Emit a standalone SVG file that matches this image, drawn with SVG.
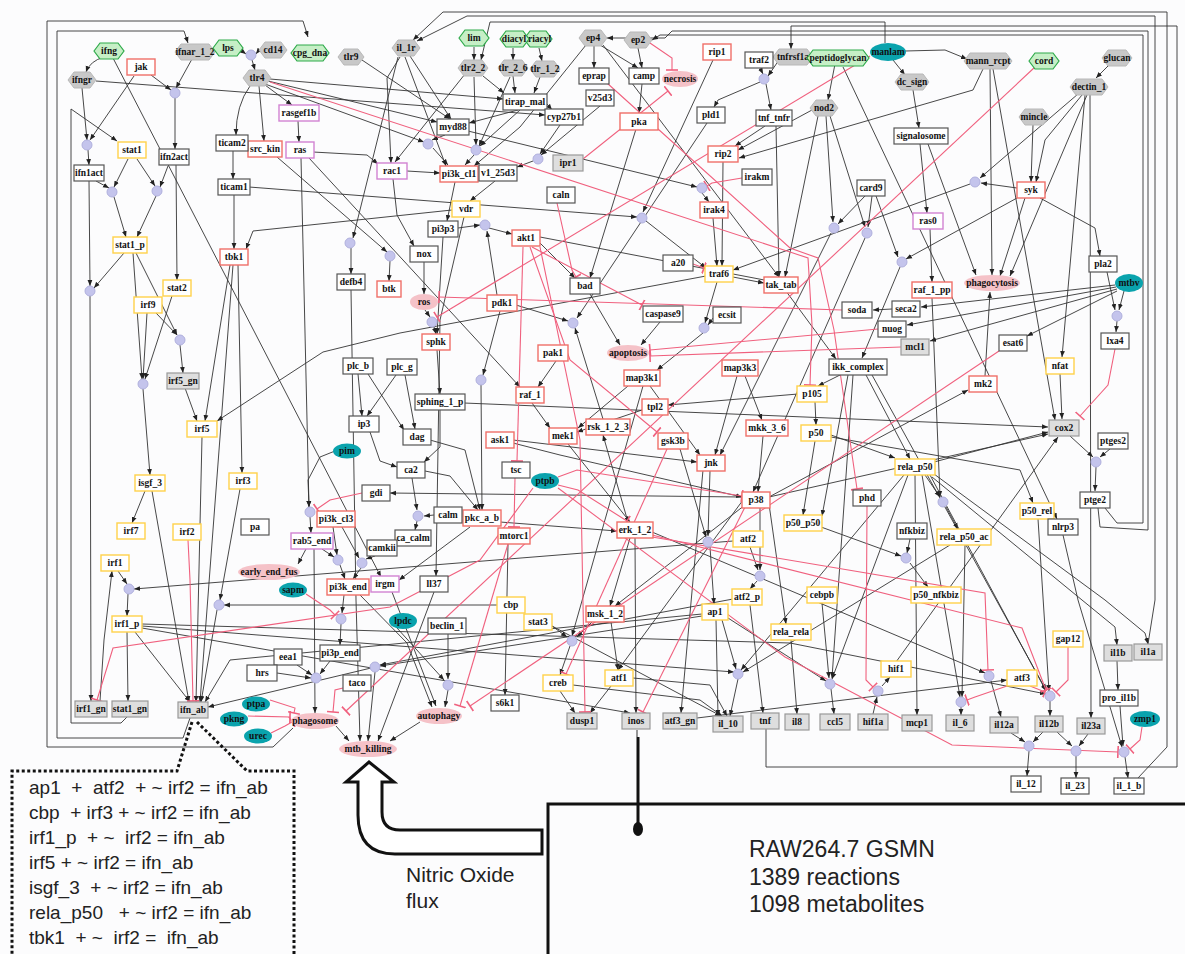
<svg xmlns="http://www.w3.org/2000/svg" width="1185" height="954" viewBox="0 0 1185 954">
<defs>
<style>
.lb{font:bold 9.5px "Liberation Serif","DejaVu Serif",serif;text-anchor:middle;fill:#111}
.r{fill:#fff;stroke:#f07068;stroke-width:1.4}
.y{fill:#fff;stroke:#ffd24a;stroke-width:1.4}
.m{fill:#fff;stroke:#d283d2;stroke-width:1.4}
.k{fill:#fff;stroke:#555;stroke-width:1.2}
.g{fill:#dedede;stroke:#999;stroke-width:1.2}
.hx{fill:#c8c8c8;stroke:#b8b8b8}
.gh{fill:#c6efc6;stroke:#2eaa4a;stroke-width:1.2}
.tl{fill:#0aa3ad}
.pk{fill:#f5c2c8}
.j{fill:#c4c4ec;stroke:#b0b0dd}
.e{fill:none;stroke:#333;stroke-width:.9;marker-end:url(#a)}
.i{fill:none;stroke:#f0607e;stroke-width:1.1;marker-end:url(#t)}
.big{font-family:"Liberation Sans",Arial,sans-serif;fill:#222}
</style>
<marker id="a" viewBox="0 0 10 10" refX="10" refY="5" markerWidth="6" markerHeight="6" markerUnits="userSpaceOnUse" orient="auto"><path d="M0,1L10,5L0,9z" fill="#222"/></marker>
<marker id="t" viewBox="0 0 4 12" refX="2" refY="6" markerWidth="4" markerHeight="12" markerUnits="userSpaceOnUse" orient="auto"><path d="M2,0V12" stroke="#f0607e" stroke-width="1.6"/></marker>
</defs>
<rect width="1185" height="954" fill="#fcfcfd"/>
<g id="connectors">
<path class="e" d="M104,57 Q90,61 86,72"/>
<path class="e" d="M113,58 L381,577"/>
<path class="e" d="M192,59 L176,88"/>
<path class="e" d="M151,75 L171,90"/>
<path class="e" d="M134,76 L90,140"/>
<path class="e" d="M82,88 L87,140"/>
<path class="e" d="M96,81 L545,115"/>
<path class="e" d="M175,98 L175,149"/>
<path class="e" d="M88,150 L89,165"/>
<path class="e" d="M128,159 L114,187"/>
<path class="e" d="M137,159 L155,186"/>
<path class="e" d="M96,181 L109,188"/>
<path class="e" d="M168,166 L160,187"/>
<path class="e" d="M114,197 L126,237"/>
<path class="e" d="M156,196 L137,237"/>
<path class="e" d="M89,181 L90,286"/>
<path class="e" d="M124,253 L94,288"/>
<path class="e" d="M90,296 L91,701"/>
<path class="e" d="M176,165 L177,280"/>
<path class="e" d="M133,253 L142,379"/>
<path class="e" d="M136,253 L177,335"/>
<path class="e" d="M147,313 L143,379"/>
<path class="e" d="M156,313 L177,335"/>
<path class="e" d="M172,296 L145,379"/>
<path class="e" d="M242,51 L246,54"/>
<path class="e" d="M259,50 L256,54"/>
<path class="e" d="M252,60 L255,70"/>
<path class="e" d="M250,86 Q236,105 236,135"/>
<path class="e" d="M259,86 L264,141"/>
<path class="e" d="M265,85 L292,105"/>
<path class="e" d="M298,121 L299,142"/>
<path class="e" d="M233,151 L233,179"/>
<path class="e" d="M234,195 L234,249"/>
<path class="e" d="M249,187 L637,217"/>
<path class="e" d="M362,60 L450,119"/>
<path class="e" d="M270,79 L503,99"/>
<path class="e" d="M265,84 L424,142"/>
<path class="e" d="M268,81 L437,122"/>
<path class="e" d="M313,152 L367,155 L378,164"/>
<path class="e" d="M309,158 L520,387"/>
<path class="e" d="M277,157 L387,252"/>
<path class="e" d="M301,158 L309,507"/>
<path class="e" d="M398,57 L353,238"/>
<path class="e" d="M351,248 L351,274"/>
<path class="e" d="M390,261 L389,281"/>
<path class="e" d="M452,210 L253,231 L246,249"/>
<path class="e" d="M351,290 L356,600 L360,741"/>
<path class="e" d="M127,717 L121,723 L71,723 L71,109 L117,141"/>
<path class="e" d="M190,718 L183,738 L57,738 L57,31 L184,31 L188,43"/>
<path class="e" d="M293,728 L273,747 L47,747 L47,21 L303,21 L308,37"/>
<path class="e" d="M1138,778 L1167,747 L1167,12 L443,12 L413,40"/>
<path class="e" d="M1148,644 L1155,600 L1155,16 L467,16 L417,41"/>
<path class="e" d="M885,43 L885,22 L490,22 L481,60"/>
<path class="e" d="M766,729 L766,767 L1177,767 L1177,26 L791,26 L791,49"/>
<path class="e" d="M1098,508 L1100,527 L1148,530 L1148,31 L672,31 L665,38 L607,38"/>
<path class="e" d="M1105,508 L1117,523 L1143,523 L1143,35 L660,35 L652,40"/>
<path class="e" d="M474,47 L474,60"/>
<path class="e" d="M513,48 L513,60"/>
<path class="e" d="M539,48 L542,61"/>
<path class="e" d="M483,76 L504,93"/>
<path class="e" d="M513,76 L515,93"/>
<path class="e" d="M540,77 L534,93"/>
<path class="e" d="M465,74 L395,162"/>
<path class="e" d="M474,77 L476,145"/>
<path class="e" d="M510,77 L479,146"/>
<path class="e" d="M518,110 L469,123"/>
<path class="e" d="M520,110 L480,146"/>
<path class="e" d="M547,104 L552,110"/>
<path class="e" d="M600,106 L541,155"/>
<path class="e" d="M560,125 L540,154"/>
<path class="e" d="M533,161 L517,167"/>
<path class="e" d="M495,181 L470,201"/>
<path class="e" d="M445,135 L432,140"/>
<path class="e" d="M468,131 L697,187"/>
<path class="e" d="M702,193 L709,202"/>
<path class="e" d="M433,148 L448,165"/>
<path class="e" d="M474,155 L465,165"/>
<path class="e" d="M407,171 L440,173"/>
<path class="e" d="M455,182 L447,221"/>
<path class="e" d="M458,228 L480,225"/>
<path class="e" d="M489,228 L512,234"/>
<path class="e" d="M497,295 L487,231"/>
<path class="e" d="M443,237 L437,334"/>
<path class="e" d="M424,262 L424,294"/>
<path class="e" d="M393,179 L397,215 L414,246"/>
<path class="e" d="M594,46 L594,68"/>
<path class="e" d="M600,45 L638,68"/>
<path class="e" d="M638,48 L642,68"/>
<path class="e" d="M642,84 L639,113"/>
<path class="e" d="M586,45 L520,127 L474,166"/>
<path class="e" d="M603,45 L779,277"/>
<path class="e" d="M713,60 L643,212"/>
<path class="e" d="M760,68 L763,74"/>
<path class="e" d="M779,60 L768,76"/>
<path class="e" d="M760,82 L718,100 L714,107"/>
<path class="e" d="M766,84 L771,110"/>
<path class="e" d="M765,126 L735,146"/>
<path class="e" d="M776,126 L779,277"/>
<path class="e" d="M723,162 L722,266"/>
<path class="e" d="M707,123 L577,318"/>
<path class="e" d="M636,129 L590,278"/>
<path class="e" d="M540,243 L575,278"/>
<path class="e" d="M540,237 L780,283 L836,359"/>
<path class="e" d="M646,221 L706,268"/>
<path class="e" d="M713,218 L717,266"/>
<path class="e" d="M733,277 L764,283"/>
<path class="e" d="M812,110 L738,150"/>
<path class="e" d="M835,64 L828,100"/>
<path class="e" d="M843,67 L1057,519"/>
<path class="e" d="M905,51 L945,50 L967,59"/>
<path class="e" d="M893,60 L905,75"/>
<path class="e" d="M913,90 L919,128"/>
<path class="e" d="M920,144 L927,213"/>
<path class="e" d="M928,144 L976,275"/>
<path class="e" d="M930,229 L932,282"/>
<path class="e" d="M990,69 L992,275"/>
<path class="e" d="M993,69 L1055,420"/>
<path class="e" d="M983,69 L973,90 L739,158"/>
<path class="e" d="M826,116 L833,222"/>
<path class="e" d="M830,116 L865,227"/>
<path class="e" d="M818,116 L785,277"/>
<path class="e" d="M865,196 L838,224"/>
<path class="e" d="M872,196 L868,227"/>
<path class="e" d="M876,196 L898,257"/>
<path class="e" d="M1017,188 L981,183"/>
<path class="e" d="M1078,94 L980,178"/>
<path class="e" d="M970,184 L733,270"/>
<path class="e" d="M1033,125 L1031,182"/>
<path class="e" d="M1082,95 L1045,140 L1036,182"/>
<path class="e" d="M1087,95 L1010,276"/>
<path class="e" d="M1090,95 L1091,718"/>
<path class="e" d="M1017,198 L906,259"/>
<path class="e" d="M1025,198 L1000,276"/>
<path class="e" d="M1040,198 L1095,228 L1100,256"/>
<path class="e" d="M1110,64 L1096,78"/>
<path class="e" d="M1107,272 L1115,310"/>
<path class="e" d="M1124,291 L1119,310"/>
<path class="e" d="M1115,285 L921,307"/>
<path class="e" d="M1116,287 L907,325"/>
<path class="e" d="M1117,289 L930,341"/>
<path class="e" d="M1117,291 L1027,336"/>
<path class="e" d="M1085,95 L1062,357"/>
<path class="e" d="M1117,321 L1116,332"/>
<path class="e" d="M1060,374 L1062,419"/>
<path class="e" d="M1070,436 L1093,457"/>
<path class="e" d="M1110,449 L1100,457"/>
<path class="e" d="M1096,467 L1095,491"/>
<path class="e" d="M932,298 L940,497"/>
<path class="e" d="M985,376 L990,292"/>
<path class="e" d="M892,309 L873,310"/>
<path class="e" d="M831,233 L720,455"/>
<path class="e" d="M865,238 L753,492"/>
<path class="e" d="M900,267 L862,358"/>
<path class="e" d="M840,375 L818,386"/>
<path class="e" d="M866,375 L910,459"/>
<path class="e" d="M853,375 L832,678"/>
<path class="e" d="M848,375 L822,516"/>
<path class="e" d="M872,375 L1046,690"/>
<path class="e" d="M815,402 L816,425"/>
<path class="e" d="M831,435 L895,458"/>
<path class="e" d="M831,437 L1020,470 L1033,503"/>
<path class="e" d="M815,441 L803,515"/>
<path class="e" d="M464,403 L1048,427"/>
<path class="e" d="M934,462 L1048,432"/>
<path class="e" d="M769,497 L1048,434"/>
<path class="e" d="M896,662 L1058,437"/>
<path class="e" d="M925,475 L940,497"/>
<path class="e" d="M946,507 L958,529"/>
<path class="e" d="M930,475 L1046,691"/>
<path class="e" d="M922,475 L960,697"/>
<path class="e" d="M908,475 L832,679"/>
<path class="e" d="M915,475 L917,715"/>
<path class="e" d="M904,475 L741,670"/>
<path class="e" d="M932,477 L1082,600 L1115,627 L1117,645"/>
<path class="e" d="M934,474 L1105,600 L1145,633 L1148,644"/>
<path class="e" d="M910,539 L907,553"/>
<path class="e" d="M821,527 L901,556"/>
<path class="e" d="M910,563 L928,587"/>
<path class="e" d="M965,545 L962,697"/>
<path class="e" d="M950,545 L743,672"/>
<path class="e" d="M1038,519 L1049,691"/>
<path class="e" d="M1063,535 L1078,600 L1122,747"/>
<path class="e" d="M1120,706 L1123,746"/>
<path class="e" d="M1117,661 L1118,690"/>
<path class="e" d="M873,714 L877,697"/>
<path class="e" d="M882,686 L890,677"/>
<path class="e" d="M822,603 L829,678"/>
<path class="e" d="M791,640 L797,714"/>
<path class="e" d="M831,689 L834,714"/>
<path class="e" d="M961,707 L961,715"/>
<path class="e" d="M991,681 L1001,717"/>
<path class="e" d="M1050,701 L1050,716"/>
<path class="e" d="M1011,733 L1025,742"/>
<path class="e" d="M1043,732 L1033,742"/>
<path class="e" d="M1057,732 L1072,746"/>
<path class="e" d="M1088,734 L1079,746"/>
<path class="e" d="M1029,751 L1027,776"/>
<path class="e" d="M1076,756 L1076,778"/>
<path class="e" d="M1125,757 L1128,778"/>
<path class="e" d="M697,718 L1007,680"/>
<path class="e" d="M560,691 L575,713"/>
<path class="e" d="M611,686 L590,713"/>
<path class="e" d="M573,685 L700,700 L722,716"/>
<path class="e" d="M633,678 L710,685 L727,716"/>
<path class="e" d="M552,626 L721,716"/>
<path class="e" d="M570,646 L560,675"/>
<path class="e" d="M592,622 L577,637"/>
<path class="e" d="M552,626 L567,637"/>
<path class="e" d="M611,622 L618,670"/>
<path class="e" d="M508,544 L505,695"/>
<path class="e" d="M448,690 L445,707"/>
<path class="e" d="M448,634 L448,679"/>
<path class="e" d="M397,628 L444,680"/>
<path class="e" d="M420,722 L390,741"/>
<path class="e" d="M635,538 L636,713"/>
<path class="e" d="M750,605 L763,713"/>
<path class="e" d="M716,620 L718,716"/>
<path class="e" d="M722,620 L736,669"/>
<path class="e" d="M728,618 L826,681"/>
<path class="e" d="M738,679 L730,716"/>
<path class="e" d="M425,310 L430,317"/>
<path class="e" d="M434,327 L436,334"/>
<path class="e" d="M437,350 L440,394"/>
<path class="e" d="M464,217 L440,320 L436,576"/>
<path class="e" d="M440,410 L440,447 L424,462"/>
<path class="e" d="M358,374 L362,416"/>
<path class="e" d="M368,374 L404,430"/>
<path class="e" d="M396,375 L367,416"/>
<path class="e" d="M405,375 L415,429"/>
<path class="e" d="M370,432 L380,461 L397,467"/>
<path class="e" d="M430,440 L465,450 L480,510"/>
<path class="e" d="M425,471 L450,476 L478,510"/>
<path class="e" d="M412,478 L417,510"/>
<path class="e" d="M434,515 L424,516"/>
<path class="e" d="M417,521 L415,530"/>
<path class="e" d="M375,556 L366,559"/>
<path class="e" d="M333,527 L337,555"/>
<path class="e" d="M342,527 L359,558"/>
<path class="e" d="M322,549 L334,557"/>
<path class="e" d="M340,565 L345,579"/>
<path class="e" d="M361,568 L353,579"/>
<path class="e" d="M344,595 L342,613"/>
<path class="e" d="M341,624 L340,645"/>
<path class="e" d="M335,451 L320,457 L308,480 L309,507"/>
<path class="e" d="M310,517 L311,533"/>
<path class="e" d="M306,549 L298,564"/>
<path class="e" d="M314,549 L315,713"/>
<path class="e" d="M297,665 L312,675"/>
<path class="e" d="M277,673 L311,678"/>
<path class="e" d="M330,661 L320,674"/>
<path class="e" d="M336,726 L349,741"/>
<path class="e" d="M375,672 L368,741"/>
<path class="e" d="M434,592 L378,741"/>
<path class="e" d="M360,595 L407,643 L432,707"/>
<path class="e" d="M392,592 L436,706"/>
<path class="e" d="M500,522 L617,531"/>
<path class="e" d="M470,527 L399,580"/>
<path class="e" d="M481,385 L482,510"/>
<path class="e" d="M500,311 L483,375"/>
<path class="e" d="M513,440 L697,462"/>
<path class="e" d="M513,443 L560,455 L742,497"/>
<path class="e" d="M532,403 L550,428"/>
<path class="e" d="M568,444 L630,522"/>
<path class="e" d="M642,410 L577,432"/>
<path class="e" d="M628,386 L578,428"/>
<path class="e" d="M650,386 L700,455"/>
<path class="e" d="M643,386 L572,636"/>
<path class="e" d="M737,376 L715,455"/>
<path class="e" d="M745,376 L762,420"/>
<path class="e" d="M763,436 L758,492"/>
<path class="e" d="M710,471 L708,536"/>
<path class="e" d="M710,547 L714,604"/>
<path class="e" d="M750,547 L758,570"/>
<path class="e" d="M760,508 L760,570"/>
<path class="e" d="M757,581 L750,589"/>
<path class="e" d="M628,522 L603,435"/>
<path class="e" d="M603,419 L575,328"/>
<path class="e" d="M516,305 L568,321"/>
<path class="e" d="M556,361 L538,387"/>
<path class="e" d="M660,322 L641,345"/>
<path class="e" d="M590,294 L620,345"/>
<path class="e" d="M703,333 L657,370"/>
<path class="e" d="M713,318 L708,325"/>
<path class="e" d="M717,282 L705,323"/>
<path class="e" d="M742,497 L390,493"/>
<path class="e" d="M497,605 L224,605"/>
<path class="e" d="M733,541 L134,589"/>
<path class="e" d="M135,632 L190,702"/>
<path class="e" d="M127,632 L128,701"/>
<path class="e" d="M142,624 L790,643 L1046,694"/>
<path class="e" d="M142,626 L734,672"/>
<path class="e" d="M142,628 L630,713"/>
<path class="e" d="M118,571 L127,584"/>
<path class="e" d="M128,594 L127,616"/>
<path class="e" d="M100,701 L104,640 L112,571"/>
<path class="e" d="M702,614 L230,660 L205,702"/>
<path class="e" d="M371,668 L208,707"/>
<path class="e" d="M702,616 L380,666"/>
<path class="e" d="M733,599 L380,665"/>
<path class="e" d="M706,276 L400,333 L323,352 L217,421"/>
<path class="e" d="M630,538 L610,606"/>
<path class="e" d="M745,505 L615,606"/>
<path class="e" d="M743,500 L618,670"/>
<path class="e" d="M769,497 L968,390"/>
<path class="e" d="M703,470 L681,713"/>
<path class="e" d="M798,394 L668,405"/>
<path class="e" d="M680,449 L706,537"/>
<path class="e" d="M185,388 L197,421"/>
<path class="e" d="M180,345 L183,373"/>
<path class="e" d="M143,389 L150,475"/>
<path class="e" d="M145,491 L132,523"/>
<path class="e" d="M152,491 L189,702"/>
<path class="e" d="M202,437 L196,702"/>
<path class="e" d="M230,265 L205,421"/>
<path class="e" d="M238,265 L242,473"/>
<path class="e" d="M233,265 L200,702"/>
<path class="e" d="M240,489 L220,600"/>
<path class="e" d="M217,610 L201,702"/>
<path class="e" d="M410,56 L451,119"/>
<path class="e" d="M405,57 L446,166"/>
<path class="e" d="M400,57 L387,78 L391,163"/>
<path class="e" d="M769,504 L786,624"/>
<path class="e" d="M652,532 L985,673"/>
<path class="i" d="M270,82 L790,252 L808,258 L812,325 L810,385"/>
<path class="i" d="M607,83 L790,248 L818,258 L834,330 L857,489"/>
<path class="i" d="M583,159 L668,91"/>
<path class="i" d="M650,43 L672,58 L672,70"/>
<path class="i" d="M742,178 L712,183 L707,186"/>
<path class="i" d="M557,203 L572,270 L576,277"/>
<path class="i" d="M532,247 L642,305"/>
<path class="i" d="M523,247 L517,461"/>
<path class="i" d="M530,247 L570,360 L657,432"/>
<path class="i" d="M842,310 L439,297"/>
<path class="i" d="M870,56 L437,317"/>
<path class="i" d="M1035,67 L346,711"/>
<path class="i" d="M999,351 L470,706"/>
<path class="i" d="M1115,349 L1108,385 L1080,416"/>
<path class="i" d="M693,264 L704,268"/>
<path class="i" d="M878,329 L650,350"/>
<path class="i" d="M901,347 L650,356"/>
<path class="i" d="M188,540 L190,580 L193,701"/>
<path class="i" d="M362,493 L330,500 L317,509"/>
<path class="i" d="M306,594 L330,610 L335,615"/>
<path class="i" d="M270,700 L295,708 L294,713"/>
<path class="i" d="M248,716 L290,717"/>
<path class="i" d="M271,733 L285,726 L292,722"/>
<path class="i" d="M343,688 L335,690 L333,712"/>
<path class="i" d="M515,478 L514,527"/>
<path class="i" d="M558,477 L577,470 L742,496"/>
<path class="i" d="M558,485 L578,490 L627,521"/>
<path class="i" d="M533,488 L480,560 L390,607 L113,648 L97,700"/>
<path class="i" d="M667,449 L566,674"/>
<path class="i" d="M867,506 L866,680 L873,687"/>
<path class="i" d="M1007,686 L975,697 L967,700"/>
<path class="i" d="M1030,686 L1045,692"/>
<path class="i" d="M1068,647 L1068,680 L1056,692"/>
<path class="i" d="M1142,727 L1140,740 L1130,749"/>
<path class="i" d="M558,488 L785,657 L952,745 L1118,752"/>
<path class="i" d="M652,535 L1022,628 L1046,690"/>
<path class="i" d="M652,537 L985,593 L988,670"/>
<path class="i" d="M745,507 L643,712"/>
<path class="i" d="M540,247 L580,440 L585,712"/>
<path class="i" d="M508,544 L460,706"/>
</g>
<g id="n-ifnar_1_2"><polygon class="hx" points="175,52 181,44 209,44 215,52 209,60 181,60"/><text class="lb" x="195" y="55.3">ifnar_1_2</text></g>
<g id="n-cd14"><polygon class="hx" points="259,50 265,42 281,42 287,50 281,58 265,58"/><text class="lb" x="273" y="53.3">cd14</text></g>
<g id="n-tlr9"><polygon class="hx" points="338,57 344,49 358,49 364,57 358,65 344,65"/><text class="lb" x="351" y="60.3">tlr9</text></g>
<g id="n-ifngr"><polygon class="hx" points="68,80 74,72 90,72 96,80 90,88 74,88"/><text class="lb" x="82" y="83.3">ifngr</text></g>
<g id="n-tlr4"><polygon class="hx" points="243,78 249,70 265,70 271,78 265,86 249,86"/><text class="lb" x="257" y="81.3">tlr4</text></g>
<g id="n-il_1r"><polygon class="hx" points="392,48 398,40 414,40 420,48 414,56 398,56"/><text class="lb" x="406" y="51.3">il_1r</text></g>
<g id="n-tlr2_2"><polygon class="hx" points="458,68 464,60 482,60 488,68 482,76 464,76"/><text class="lb" x="473" y="71.3">tlr2_2</text></g>
<g id="n-tlr_2_6"><polygon class="hx" points="498,68 504,60 522,60 528,68 522,76 504,76"/><text class="lb" x="513" y="71.3">tlr_2_6</text></g>
<g id="n-tlr_1_2"><polygon class="hx" points="530,69 536,61 554,61 560,69 554,77 536,77"/><text class="lb" x="545" y="72.3">tlr_1_2</text></g>
<g id="n-ep4"><polygon class="hx" points="579,38 585,30 601,30 607,38 601,46 585,46"/><text class="lb" x="593" y="41.3">ep4</text></g>
<g id="n-ep2"><polygon class="hx" points="624,40 630,32 646,32 652,40 646,48 630,48"/><text class="lb" x="638" y="43.3">ep2</text></g>
<g id="n-tnfrsf1a"><polygon class="hx" points="773,57 779,49 807,49 813,57 807,65 779,65"/><text class="lb" x="793" y="60.3">tnfrsf1a</text></g>
<g id="n-mann_rcpt"><polygon class="hx" points="964,61 970,53 1006,53 1012,61 1006,69 970,69"/><text class="lb" x="988" y="64.3">mann_rcpt</text></g>
<g id="n-dc_sign"><polygon class="hx" points="895,82 901,74 923,74 929,82 923,90 901,90"/><text class="lb" x="912" y="85.3">dc_sign</text></g>
<g id="n-glucan"><polygon class="hx" points="1102,58 1108,50 1126,50 1132,58 1126,66 1108,66"/><text class="lb" x="1117" y="61.3">glucan</text></g>
<g id="n-dectin_1"><polygon class="hx" points="1070,87 1076,79 1102,79 1108,87 1102,95 1076,95"/><text class="lb" x="1089" y="90.3">dectin_1</text></g>
<g id="n-nod2"><polygon class="hx" points="810,108 816,100 832,100 838,108 832,116 816,116"/><text class="lb" x="824" y="111.3">nod2</text></g>
<g id="n-mincle"><polygon class="hx" points="1019,117 1025,109 1043,109 1049,117 1043,125 1025,125"/><text class="lb" x="1034" y="120.3">mincle</text></g>
<g id="n-ifng"><polygon class="gh" points="94,51 100,43 118,43 124,51 118,59 100,59"/><text class="lb" x="109" y="54.3">ifng</text></g>
<g id="n-lps"><polygon class="gh" points="213,48 219,40 237,40 243,48 237,56 219,56"/><text class="lb" x="228" y="51.3">lps</text></g>
<g id="n-cpg_dna"><polygon class="gh" points="291,53 297,45 323,45 329,53 323,61 297,61"/><text class="lb" x="310" y="56.3">cpg_dna</text></g>
<g id="n-lim"><polygon class="gh" points="459,38 465,30 483,30 489,38 483,46 465,46"/><text class="lb" x="474" y="41.3">lim</text></g>
<g id="n-triacyl"><polygon class="gh" points="524,39 530,31 546,31 552,39 546,47 530,47"/><text class="lb" x="538" y="42.3">triacyl</text></g>
<g id="n-diacyl"><polygon class="gh" points="500,39 506,31 523,31 529,39 523,47 506,47"/><text class="lb" x="514" y="42.3">diacyl</text></g>
<g id="n-peptidoglycan"><polygon class="gh" points="807,58 813,50 863,50 869,58 863,66 813,66"/><text class="lb" x="838" y="61.3">peptidoglycan</text></g>
<g id="n-cord"><polygon class="gh" points="1029,61 1035,53 1053,53 1059,61 1053,69 1035,69"/><text class="lb" x="1044" y="64.3">cord</text></g>
<g id="n-manlam"><ellipse class="tl" cx="888" cy="52" rx="18" ry="9"/><text class="lb" x="888" y="55.3">manlam</text></g>
<g id="n-mtbv"><ellipse class="tl" cx="1129" cy="283" rx="14" ry="9"/><text class="lb" x="1129" y="286.3">mtbv</text></g>
<g id="n-pim"><ellipse class="tl" cx="347" cy="451" rx="14" ry="7.5"/><text class="lb" x="347" y="454.3">pim</text></g>
<g id="n-sapm"><ellipse class="tl" cx="293" cy="590" rx="14" ry="7.5"/><text class="lb" x="293" y="593.3">sapm</text></g>
<g id="n-lpdc"><ellipse class="tl" cx="403" cy="621" rx="14" ry="8"/><text class="lb" x="403" y="624.3">lpdc</text></g>
<g id="n-ptpb"><ellipse class="tl" cx="545" cy="481" rx="14" ry="8"/><text class="lb" x="545" y="484.3">ptpb</text></g>
<g id="n-ptpa"><ellipse class="tl" cx="256" cy="704" rx="14" ry="7.5"/><text class="lb" x="256" y="707.3">ptpa</text></g>
<g id="n-pkng"><ellipse class="tl" cx="234" cy="719" rx="14" ry="7.5"/><text class="lb" x="234" y="722.3">pkng</text></g>
<g id="n-urec"><ellipse class="tl" cx="258" cy="736" rx="14" ry="7.5"/><text class="lb" x="258" y="739.3">urec</text></g>
<g id="n-zmp1"><ellipse class="tl" cx="1145" cy="719" rx="15" ry="8"/><text class="lb" x="1145" y="722.3">zmp1</text></g>
<g id="n-necrosis"><ellipse class="pk" cx="680" cy="79" rx="18" ry="8"/><text class="lb" x="680" y="82.3">necrosis</text></g>
<g id="n-phagocytosis"><ellipse class="pk" cx="992" cy="283" rx="28" ry="8"/><text class="lb" x="992" y="286.3">phagocytosis</text></g>
<g id="n-ros"><ellipse class="pk" cx="424" cy="302" rx="14" ry="8"/><text class="lb" x="424" y="305.3">ros</text></g>
<g id="n-apoptosis"><ellipse class="pk" cx="628" cy="353" rx="21" ry="8"/><text class="lb" x="628" y="356.3">apoptosis</text></g>
<g id="n-early_end_fus"><ellipse class="pk" cx="269" cy="572" rx="31" ry="8"/><text class="lb" x="269" y="575.3">early_end_fus</text></g>
<g id="n-phagosome"><ellipse class="pk" cx="315" cy="721" rx="24" ry="8"/><text class="lb" x="315" y="724.3">phagosome</text></g>
<g id="n-mtb_killing"><ellipse class="pk" cx="368" cy="749" rx="29" ry="8"/><text class="lb" x="368" y="752.3">mtb_killing</text></g>
<g id="n-autophagy"><ellipse class="pk" cx="439" cy="716" rx="23" ry="8"/><text class="lb" x="439" y="719.3">autophagy</text></g>
<g id="n-jak"><rect class="r" x="127" y="59" width="28" height="16"/><text class="lb" x="141" y="70.3">jak</text></g>
<g id="n-src_kin"><rect class="r" x="248" y="141" width="34" height="16"/><text class="lb" x="265" y="152.3">src_kin</text></g>
<g id="n-tbk1"><rect class="r" x="220" y="249" width="28" height="16"/><text class="lb" x="234" y="260.3">tbk1</text></g>
<g id="n-btk"><rect class="r" x="377" y="281" width="24" height="16"/><text class="lb" x="389" y="292.3">btk</text></g>
<g id="n-pi3k_cl1"><rect class="r" x="440" y="166" width="38" height="16"/><text class="lb" x="459" y="177.3">pi3k_cl1</text></g>
<g id="n-rip1"><rect class="r" x="703" y="44" width="28" height="16"/><text class="lb" x="717" y="55.3">rip1</text></g>
<g id="n-pka"><rect class="r" x="620" y="113" width="38" height="17"/><text class="lb" x="639" y="124.8">pka</text></g>
<g id="n-rip2"><rect class="r" x="708" y="146" width="30" height="16"/><text class="lb" x="723" y="157.3">rip2</text></g>
<g id="n-irak4"><rect class="r" x="700" y="202" width="28" height="16"/><text class="lb" x="714" y="213.3">irak4</text></g>
<g id="n-akt1"><rect class="r" x="512" y="230" width="28" height="16"/><text class="lb" x="526" y="241.3">akt1</text></g>
<g id="n-tak_tab"><rect class="r" x="764" y="277" width="34" height="16"/><text class="lb" x="781" y="288.3">tak_tab</text></g>
<g id="n-pdk1"><rect class="r" x="487" y="295" width="30" height="16"/><text class="lb" x="502" y="306.3">pdk1</text></g>
<g id="n-sphk"><rect class="r" x="422" y="334" width="28" height="16"/><text class="lb" x="436" y="345.3">sphk</text></g>
<g id="n-pak1"><rect class="r" x="538" y="345" width="30" height="16"/><text class="lb" x="553" y="356.3">pak1</text></g>
<g id="n-map3k3"><rect class="r" x="722" y="360" width="36" height="16"/><text class="lb" x="740" y="371.3">map3k3</text></g>
<g id="n-map3k1"><rect class="r" x="624" y="370" width="36" height="16"/><text class="lb" x="642" y="381.3">map3k1</text></g>
<g id="n-raf_1"><rect class="r" x="516" y="387" width="28" height="16"/><text class="lb" x="530" y="398.3">raf_1</text></g>
<g id="n-tpl2"><rect class="r" x="642" y="399" width="26" height="16"/><text class="lb" x="655" y="410.3">tpl2</text></g>
<g id="n-mkk_3_6"><rect class="r" x="746" y="420" width="42" height="16"/><text class="lb" x="767" y="431.3">mkk_3_6</text></g>
<g id="n-mek1"><rect class="r" x="549" y="428" width="28" height="16"/><text class="lb" x="563" y="439.3">mek1</text></g>
<g id="n-rsk_1_2_3"><rect class="r" x="586" y="419" width="44" height="16"/><text class="lb" x="608" y="430.3">rsk_1_2_3</text></g>
<g id="n-gsk3b"><rect class="r" x="658" y="433" width="30" height="16"/><text class="lb" x="673" y="444.3">gsk3b</text></g>
<g id="n-ask1"><rect class="r" x="486" y="432" width="28" height="16"/><text class="lb" x="500" y="443.3">ask1</text></g>
<g id="n-jnk"><rect class="r" x="697" y="455" width="28" height="16"/><text class="lb" x="711" y="466.3">jnk</text></g>
<g id="n-p38"><rect class="r" x="742" y="492" width="28" height="16"/><text class="lb" x="756" y="503.3">p38</text></g>
<g id="n-pkc_a_b"><rect class="r" x="463" y="510" width="38" height="16"/><text class="lb" x="482" y="521.3">pkc_a_b</text></g>
<g id="n-erk_1_2"><rect class="r" x="617" y="522" width="36" height="16"/><text class="lb" x="635" y="533.3">erk_1_2</text></g>
<g id="n-mtorc1"><rect class="r" x="498" y="528" width="32" height="16"/><text class="lb" x="514" y="539.3">mtorc1</text></g>
<g id="n-pi3k_cl3"><rect class="r" x="317" y="511" width="38" height="16"/><text class="lb" x="336" y="522.3">pi3k_cl3</text></g>
<g id="n-pi3k_end"><rect class="r" x="327" y="579" width="42" height="16"/><text class="lb" x="348" y="590.3">pi3k_end</text></g>
<g id="n-msk_1_2"><rect class="r" x="586" y="606" width="38" height="16"/><text class="lb" x="605" y="617.3">msk_1_2</text></g>
<g id="n-syk"><rect class="r" x="1017" y="182" width="28" height="16"/><text class="lb" x="1031" y="193.3">syk</text></g>
<g id="n-raf_1_pp"><rect class="r" x="912" y="282" width="40" height="16"/><text class="lb" x="932" y="293.3">raf_1_pp</text></g>
<g id="n-mk2"><rect class="r" x="969" y="376" width="28" height="16"/><text class="lb" x="983" y="387.3">mk2</text></g>
<g id="n-stat1"><rect class="y" x="118" y="142" width="28" height="16"/><text class="lb" x="132" y="153.3">stat1</text></g>
<g id="n-stat1_p"><rect class="y" x="113" y="237" width="34" height="16"/><text class="lb" x="130" y="248.3">stat1_p</text></g>
<g id="n-stat2"><rect class="y" x="163" y="280" width="28" height="16"/><text class="lb" x="177" y="291.3">stat2</text></g>
<g id="n-irf9"><rect class="y" x="134" y="297" width="28" height="16"/><text class="lb" x="148" y="308.3">irf9</text></g>
<g id="n-irf5"><rect class="y" x="187" y="421" width="30" height="16"/><text class="lb" x="202" y="432.3">irf5</text></g>
<g id="n-isgf_3"><rect class="y" x="135" y="475" width="30" height="16"/><text class="lb" x="150" y="486.3">isgf_3</text></g>
<g id="n-irf3"><rect class="y" x="229" y="473" width="28" height="16"/><text class="lb" x="243" y="484.3">irf3</text></g>
<g id="n-irf7"><rect class="y" x="117" y="523" width="28" height="16"/><text class="lb" x="131" y="534.3">irf7</text></g>
<g id="n-irf2"><rect class="y" x="173" y="524" width="28" height="16"/><text class="lb" x="187" y="535.3">irf2</text></g>
<g id="n-irf1"><rect class="y" x="101" y="555" width="28" height="16"/><text class="lb" x="115" y="566.3">irf1</text></g>
<g id="n-irf1_p"><rect class="y" x="112" y="616" width="30" height="16"/><text class="lb" x="127" y="627.3">irf1_p</text></g>
<g id="n-vdr"><rect class="y" x="452" y="201" width="28" height="16"/><text class="lb" x="466" y="212.3">vdr</text></g>
<g id="n-traf6"><rect class="y" x="705" y="266" width="28" height="16"/><text class="lb" x="719" y="277.3">traf6</text></g>
<g id="n-atf2"><rect class="y" x="733" y="531" width="30" height="16"/><text class="lb" x="748" y="542.3">atf2</text></g>
<g id="n-atf2_p"><rect class="y" x="732" y="589" width="30" height="16"/><text class="lb" x="747" y="600.3">atf2_p</text></g>
<g id="n-cbp"><rect class="y" x="497" y="597" width="28" height="16"/><text class="lb" x="511" y="608.3">cbp</text></g>
<g id="n-ap1"><rect class="y" x="702" y="604" width="26" height="16"/><text class="lb" x="715" y="615.3">ap1</text></g>
<g id="n-stat3"><rect class="y" x="524" y="614" width="28" height="16"/><text class="lb" x="538" y="625.3">stat3</text></g>
<g id="n-creb"><rect class="y" x="543" y="675" width="30" height="16"/><text class="lb" x="558" y="686.3">creb</text></g>
<g id="n-atf1"><rect class="y" x="605" y="670" width="28" height="16"/><text class="lb" x="619" y="681.3">atf1</text></g>
<g id="n-rela_rela"><rect class="y" x="771" y="624" width="40" height="16"/><text class="lb" x="791" y="635.3">rela_rela</text></g>
<g id="n-cebpb"><rect class="y" x="807" y="587" width="30" height="16"/><text class="lb" x="822" y="598.3">cebpb</text></g>
<g id="n-p105"><rect class="y" x="797" y="386" width="30" height="16"/><text class="lb" x="812" y="397.3">p105</text></g>
<g id="n-p50"><rect class="y" x="801" y="425" width="30" height="16"/><text class="lb" x="816" y="436.3">p50</text></g>
<g id="n-rela_p50"><rect class="y" x="895" y="459" width="40" height="16"/><text class="lb" x="915" y="470.3">rela_p50</text></g>
<g id="n-p50_p50"><rect class="y" x="784" y="515" width="38" height="16"/><text class="lb" x="803" y="526.3">p50_p50</text></g>
<g id="n-p50_rel"><rect class="y" x="1020" y="503" width="34" height="16"/><text class="lb" x="1037" y="514.3">p50_rel</text></g>
<g id="n-rela_p50_ac"><rect class="y" x="937" y="529" width="54" height="16"/><text class="lb" x="964" y="540.3">rela_p50_ac</text></g>
<g id="n-p50_nfkbiz"><rect class="y" x="911" y="587" width="50" height="16"/><text class="lb" x="936" y="598.3">p50_nfkbiz</text></g>
<g id="n-nfat"><rect class="y" x="1046" y="358" width="28" height="16"/><text class="lb" x="1060" y="369.3">nfat</text></g>
<g id="n-hif1"><rect class="y" x="881" y="661" width="30" height="16"/><text class="lb" x="896" y="672.3">hif1</text></g>
<g id="n-atf3"><rect class="y" x="1007" y="670" width="30" height="16"/><text class="lb" x="1022" y="681.3">atf3</text></g>
<g id="n-gap12"><rect class="y" x="1053" y="631" width="30" height="16"/><text class="lb" x="1068" y="642.3">gap12</text></g>
<g id="n-rasgef1b"><rect class="m" x="279" y="105" width="40" height="16"/><text class="lb" x="299" y="116.3">rasgef1b</text></g>
<g id="n-ras"><rect class="m" x="286" y="142" width="28" height="16"/><text class="lb" x="300" y="153.3">ras</text></g>
<g id="n-rac1"><rect class="m" x="377" y="163" width="30" height="16"/><text class="lb" x="392" y="174.3">rac1</text></g>
<g id="n-rab5_end"><rect class="m" x="291" y="533" width="42" height="16"/><text class="lb" x="312" y="544.3">rab5_end</text></g>
<g id="n-irgm"><rect class="m" x="371" y="576" width="28" height="16"/><text class="lb" x="385" y="587.3">irgm</text></g>
<g id="n-ras0"><rect class="m" x="913" y="213" width="30" height="16"/><text class="lb" x="928" y="224.3">ras0</text></g>
<g id="n-ifn1act"><rect class="k" x="74" y="165" width="30" height="16"/><text class="lb" x="89" y="176.3">ifn1act</text></g>
<g id="n-ifn2act"><rect class="k" x="159" y="149" width="30" height="16"/><text class="lb" x="174" y="160.3">ifn2act</text></g>
<g id="n-ticam2"><rect class="k" x="216" y="135" width="32" height="16"/><text class="lb" x="232" y="146.3">ticam2</text></g>
<g id="n-ticam1"><rect class="k" x="218" y="179" width="32" height="16"/><text class="lb" x="234" y="190.3">ticam1</text></g>
<g id="n-defb4"><rect class="k" x="337" y="274" width="28" height="16"/><text class="lb" x="351" y="285.3">defb4</text></g>
<g id="n-eprap"><rect class="k" x="579" y="68" width="30" height="16"/><text class="lb" x="594" y="79.3">eprap</text></g>
<g id="n-camp"><rect class="k" x="629" y="68" width="30" height="16"/><text class="lb" x="644" y="79.3">camp</text></g>
<g id="n-traf2"><rect class="k" x="745" y="52" width="28" height="16"/><text class="lb" x="759" y="63.3">traf2</text></g>
<g id="n-tirap_mal"><rect class="k" x="503" y="94" width="44" height="16"/><text class="lb" x="525" y="105.3">tirap_mal</text></g>
<g id="n-v25d3"><rect class="k" x="586" y="90" width="28" height="16"/><text class="lb" x="600" y="101.3">v25d3</text></g>
<g id="n-cyp27b1"><rect class="k" x="545" y="109" width="38" height="16"/><text class="lb" x="564" y="120.3">cyp27b1</text></g>
<g id="n-myd88"><rect class="k" x="437" y="119" width="32" height="16"/><text class="lb" x="453" y="130.3">myd88</text></g>
<g id="n-pld1"><rect class="k" x="697" y="107" width="28" height="16"/><text class="lb" x="711" y="118.3">pld1</text></g>
<g id="n-tnf_tnfr"><rect class="k" x="756" y="110" width="36" height="16"/><text class="lb" x="774" y="121.3">tnf_tnfr</text></g>
<g id="n-v1_25d3"><rect class="k" x="479" y="165" width="38" height="16"/><text class="lb" x="498" y="176.3">v1_25d3</text></g>
<g id="n-caln"><rect class="k" x="547" y="187" width="28" height="16"/><text class="lb" x="561" y="198.3">caln</text></g>
<g id="n-pi3p3"><rect class="k" x="428" y="221" width="30" height="16"/><text class="lb" x="443" y="232.3">pi3p3</text></g>
<g id="n-nox"><rect class="k" x="410" y="246" width="28" height="16"/><text class="lb" x="424" y="257.3">nox</text></g>
<g id="n-a20"><rect class="k" x="663" y="255" width="30" height="16"/><text class="lb" x="678" y="266.3">a20</text></g>
<g id="n-bad"><rect class="k" x="570" y="278" width="30" height="16"/><text class="lb" x="585" y="289.3">bad</text></g>
<g id="n-caspase9"><rect class="k" x="643" y="306" width="40" height="16"/><text class="lb" x="663" y="317.3">caspase9</text></g>
<g id="n-ecsit"><rect class="k" x="713" y="307" width="28" height="16"/><text class="lb" x="727" y="318.3">ecsit</text></g>
<g id="n-irakm"><rect class="k" x="742" y="169" width="30" height="16"/><text class="lb" x="757" y="180.3">irakm</text></g>
<g id="n-plc_b"><rect class="k" x="343" y="358" width="30" height="16"/><text class="lb" x="358" y="369.3">plc_b</text></g>
<g id="n-plc_g"><rect class="k" x="387" y="359" width="30" height="16"/><text class="lb" x="402" y="370.3">plc_g</text></g>
<g id="n-ip3"><rect class="k" x="349" y="416" width="30" height="16"/><text class="lb" x="364" y="427.3">ip3</text></g>
<g id="n-sphing_1_p"><rect class="k" x="415" y="394" width="50" height="16"/><text class="lb" x="440" y="405.3">sphing_1_p</text></g>
<g id="n-dag"><rect class="k" x="403" y="429" width="28" height="16"/><text class="lb" x="417" y="440.3">dag</text></g>
<g id="n-ca2"><rect class="k" x="397" y="462" width="28" height="16"/><text class="lb" x="411" y="473.3">ca2</text></g>
<g id="n-tsc"><rect class="k" x="502" y="462" width="28" height="16"/><text class="lb" x="516" y="473.3">tsc</text></g>
<g id="n-gdi"><rect class="k" x="362" y="485" width="28" height="16"/><text class="lb" x="376" y="496.3">gdi</text></g>
<g id="n-calm"><rect class="k" x="434" y="507" width="28" height="16"/><text class="lb" x="448" y="518.3">calm</text></g>
<g id="n-ca_calm"><rect class="k" x="395" y="530" width="36" height="16"/><text class="lb" x="413" y="541.3">ca_calm</text></g>
<g id="n-camkii"><rect class="k" x="367" y="540" width="30" height="16"/><text class="lb" x="382" y="551.3">camkii</text></g>
<g id="n-pa"><rect class="k" x="241" y="519" width="28" height="16"/><text class="lb" x="255" y="530.3">pa</text></g>
<g id="n-ll37"><rect class="k" x="420" y="576" width="28" height="16"/><text class="lb" x="434" y="587.3">ll37</text></g>
<g id="n-beclin_1"><rect class="k" x="428" y="618" width="38" height="16"/><text class="lb" x="447" y="629.3">beclin_1</text></g>
<g id="n-pi3p_end"><rect class="k" x="320" y="645" width="40" height="16"/><text class="lb" x="340" y="656.3">pi3p_end</text></g>
<g id="n-eea1"><rect class="k" x="274" y="649" width="28" height="16"/><text class="lb" x="288" y="660.3">eea1</text></g>
<g id="n-hrs"><rect class="k" x="247" y="665" width="30" height="16"/><text class="lb" x="262" y="676.3">hrs</text></g>
<g id="n-taco"><rect class="k" x="343" y="675" width="28" height="16"/><text class="lb" x="357" y="686.3">taco</text></g>
<g id="n-s6k1"><rect class="k" x="491" y="695" width="28" height="16"/><text class="lb" x="505" y="706.3">s6k1</text></g>
<g id="n-signalosome"><rect class="k" x="894" y="128" width="54" height="16"/><text class="lb" x="921" y="139.3">signalosome</text></g>
<g id="n-card9"><rect class="k" x="857" y="180" width="28" height="16"/><text class="lb" x="871" y="191.3">card9</text></g>
<g id="n-pla2"><rect class="k" x="1089" y="256" width="28" height="16"/><text class="lb" x="1103" y="267.3">pla2</text></g>
<g id="n-soda"><rect class="k" x="842" y="302" width="30" height="16"/><text class="lb" x="857" y="313.3">soda</text></g>
<g id="n-seca2"><rect class="k" x="892" y="301" width="28" height="16"/><text class="lb" x="906" y="312.3">seca2</text></g>
<g id="n-nuog"><rect class="k" x="878" y="321" width="28" height="16"/><text class="lb" x="892" y="332.3">nuog</text></g>
<g id="n-esat6"><rect class="k" x="999" y="335" width="28" height="16"/><text class="lb" x="1013" y="346.3">esat6</text></g>
<g id="n-lxa4"><rect class="k" x="1101" y="333" width="28" height="16"/><text class="lb" x="1115" y="344.3">lxa4</text></g>
<g id="n-ikk_complex"><rect class="k" x="829" y="359" width="58" height="16"/><text class="lb" x="858" y="370.3">ikk_complex</text></g>
<g id="n-ptges2"><rect class="k" x="1098" y="433" width="30" height="16"/><text class="lb" x="1113" y="444.3">ptges2</text></g>
<g id="n-phd"><rect class="k" x="853" y="490" width="28" height="16"/><text class="lb" x="867" y="501.3">phd</text></g>
<g id="n-ptge2"><rect class="k" x="1080" y="492" width="30" height="16"/><text class="lb" x="1095" y="503.3">ptge2</text></g>
<g id="n-nlrp3"><rect class="k" x="1048" y="519" width="30" height="16"/><text class="lb" x="1063" y="530.3">nlrp3</text></g>
<g id="n-nfkbiz"><rect class="k" x="897" y="523" width="30" height="16"/><text class="lb" x="912" y="534.3">nfkbiz</text></g>
<g id="n-pro_il1b"><rect class="k" x="1100" y="690" width="38" height="16"/><text class="lb" x="1119" y="701.3">pro_il1b</text></g>
<g id="n-il_12"><rect class="k" x="1011" y="776" width="30" height="16"/><text class="lb" x="1026" y="787.3">il_12</text></g>
<g id="n-il_23"><rect class="k" x="1061" y="778" width="28" height="16"/><text class="lb" x="1075" y="789.3">il_23</text></g>
<g id="n-il_1_b"><rect class="k" x="1114" y="778" width="30" height="16"/><text class="lb" x="1129" y="789.3">il_1_b</text></g>
<g id="n-irf5_gn"><rect class="g" x="167" y="373" width="32" height="16"/><text class="lb" x="183" y="384.3">irf5_gn</text></g>
<g id="n-irf1_gn"><rect class="g" x="75" y="701" width="32" height="16"/><text class="lb" x="91" y="712.3">irf1_gn</text></g>
<g id="n-stat1_gn"><rect class="g" x="112" y="701" width="36" height="16"/><text class="lb" x="130" y="712.3">stat1_gn</text></g>
<g id="n-ifn_ab"><rect class="g" x="178" y="702" width="30" height="16"/><text class="lb" x="193" y="713.3">ifn_ab</text></g>
<g id="n-ipr1"><rect class="g" x="553" y="155" width="30" height="16"/><text class="lb" x="568" y="166.3">ipr1</text></g>
<g id="n-mcl1"><rect class="g" x="901" y="339" width="28" height="16"/><text class="lb" x="915" y="350.3">mcl1</text></g>
<g id="n-cox2"><rect class="g" x="1049" y="420" width="30" height="16"/><text class="lb" x="1064" y="431.3">cox2</text></g>
<g id="n-dusp1"><rect class="g" x="567" y="713" width="30" height="16"/><text class="lb" x="582" y="724.3">dusp1</text></g>
<g id="n-inos"><rect class="g" x="622" y="713" width="28" height="16"/><text class="lb" x="636" y="724.3">inos</text></g>
<g id="n-atf3_gn"><rect class="g" x="663" y="713" width="34" height="16"/><text class="lb" x="680" y="724.3">atf3_gn</text></g>
<g id="n-il_10"><rect class="g" x="713" y="716" width="30" height="16"/><text class="lb" x="728" y="727.3">il_10</text></g>
<g id="n-tnf"><rect class="g" x="751" y="713" width="28" height="16"/><text class="lb" x="765" y="724.3">tnf</text></g>
<g id="n-il8"><rect class="g" x="785" y="714" width="24" height="16"/><text class="lb" x="797" y="725.3">il8</text></g>
<g id="n-ccl5"><rect class="g" x="820" y="714" width="30" height="16"/><text class="lb" x="835" y="725.3">ccl5</text></g>
<g id="n-hif1a"><rect class="g" x="858" y="714" width="30" height="16"/><text class="lb" x="873" y="725.3">hif1a</text></g>
<g id="n-mcp1"><rect class="g" x="902" y="715" width="30" height="16"/><text class="lb" x="917" y="726.3">mcp1</text></g>
<g id="n-il_6"><rect class="g" x="946" y="715" width="28" height="16"/><text class="lb" x="960" y="726.3">il_6</text></g>
<g id="n-il12a"><rect class="g" x="990" y="717" width="28" height="16"/><text class="lb" x="1004" y="728.3">il12a</text></g>
<g id="n-il12b"><rect class="g" x="1035" y="716" width="28" height="16"/><text class="lb" x="1049" y="727.3">il12b</text></g>
<g id="n-il23a"><rect class="g" x="1077" y="718" width="28" height="16"/><text class="lb" x="1091" y="729.3">il23a</text></g>
<g id="n-il1b"><rect class="g" x="1104" y="645" width="28" height="16"/><text class="lb" x="1118" y="656.3">il1b</text></g>
<g id="n-il1a"><rect class="g" x="1134" y="644" width="28" height="16"/><text class="lb" x="1148" y="655.3">il1a</text></g>
<g id="junctions">
<circle class="j" cx="175" cy="93" r="5"/><circle class="j" cx="87" cy="145" r="5"/><circle class="j" cx="112" cy="192" r="5"/><circle class="j" cx="157" cy="191" r="5"/><circle class="j" cx="90" cy="291" r="5"/><circle class="j" cx="143" cy="384" r="5"/><circle class="j" cx="180" cy="340" r="5"/><circle class="j" cx="251" cy="55" r="5"/><circle class="j" cx="350" cy="243" r="5"/><circle class="j" cx="390" cy="256" r="5"/><circle class="j" cx="428" cy="144" r="5"/><circle class="j" cx="476" cy="150" r="5"/><circle class="j" cx="538" cy="159" r="5"/><circle class="j" cx="702" cy="188" r="5"/><circle class="j" cx="764" cy="79" r="5"/><circle class="j" cx="642" cy="218" r="5"/><circle class="j" cx="485" cy="225" r="5"/><circle class="j" cx="432" cy="322" r="5"/><circle class="j" cx="573" cy="323" r="5"/><circle class="j" cx="704" cy="328" r="5"/><circle class="j" cx="481" cy="380" r="5"/><circle class="j" cx="418" cy="516" r="5"/><circle class="j" cx="310" cy="512" r="5"/><circle class="j" cx="338" cy="560" r="5"/><circle class="j" cx="362" cy="563" r="5"/><circle class="j" cx="341" cy="619" r="5"/><circle class="j" cx="129" cy="589" r="5"/><circle class="j" cx="219" cy="605" r="5"/><circle class="j" cx="316" cy="678" r="5"/><circle class="j" cx="375" cy="667" r="5"/><circle class="j" cx="448" cy="685" r="5"/><circle class="j" cx="572" cy="641" r="5"/><circle class="j" cx="708" cy="542" r="5"/><circle class="j" cx="760" cy="576" r="5"/><circle class="j" cx="738" cy="674" r="5"/><circle class="j" cx="975" cy="182" r="5"/><circle class="j" cx="834" cy="228" r="5"/><circle class="j" cx="867" cy="233" r="5"/><circle class="j" cx="902" cy="262" r="5"/><circle class="j" cx="1117" cy="316" r="5"/><circle class="j" cx="1096" cy="462" r="5"/><circle class="j" cx="943" cy="502" r="5"/><circle class="j" cx="906" cy="558" r="5"/><circle class="j" cx="830" cy="684" r="5"/><circle class="j" cx="878" cy="691" r="5"/><circle class="j" cx="961" cy="702" r="5"/><circle class="j" cx="989" cy="676" r="5"/><circle class="j" cx="1050" cy="696" r="5"/><circle class="j" cx="1029" cy="746" r="5"/><circle class="j" cx="1076" cy="751" r="5"/><circle class="j" cx="1124" cy="752" r="5"/>
</g>
<g id="callout">
<path d="M192,722 L177,771 L12,771 L12,954 M197,722 L247,771 L294,771 L294,954" fill="none" stroke="#111" stroke-width="3" stroke-dasharray="3,2.5"/>
<g class="big" font-size="19">
<text x="29" y="794" xml:space="preserve">ap1  +  atf2  + ~ irf2 = ifn_ab</text>
<text x="29" y="819" xml:space="preserve">cbp  + irf3 + ~ irf2 = ifn_ab</text>
<text x="29" y="844" xml:space="preserve">irf1_p  + ~  irf2 = ifn_ab</text>
<text x="29" y="869" xml:space="preserve">irf5 + ~ irf2 = ifn_ab</text>
<text x="29" y="894" xml:space="preserve">isgf_3  + ~ irf2 = ifn_ab</text>
<text x="29" y="919" xml:space="preserve">rela_p50   + ~ irf2 = ifn_ab</text>
<text x="29" y="944" xml:space="preserve">tbk1  + ~  irf2 =  ifn_ab</text>
</g>
</g>
<g id="gsmn">
<path d="M548,954 L548,804 L1185,804" fill="none" stroke="#111" stroke-width="3"/>
<path d="M637,730 L637,737" stroke="#333" stroke-width="1"/>
<path d="M638,737 L638,826" stroke="#111" stroke-width="3"/>
<ellipse cx="638" cy="829" rx="5" ry="7" fill="#111"/>
<text class="big" x="749" y="857" font-size="23">RAW264.7 GSMN</text>
<text class="big" x="749" y="885" font-size="23">1389 reactions</text>
<text class="big" x="749" y="912" font-size="23">1098 metabolites</text>
</g>
<g id="no-flux">
<path d="M369,762 L394,782 L382,782 L382,812 Q382,830 400,830 L542,830 L542,854 L395,854 Q358,854 358,815 L358,782 L346,782 Z" fill="#fff" stroke="#111" stroke-width="3" stroke-linejoin="miter"/>
<text class="big" x="406" y="882" font-size="21">Nitric Oxide</text>
<text class="big" x="406" y="908" font-size="21">flux</text>
</g>
</svg>
